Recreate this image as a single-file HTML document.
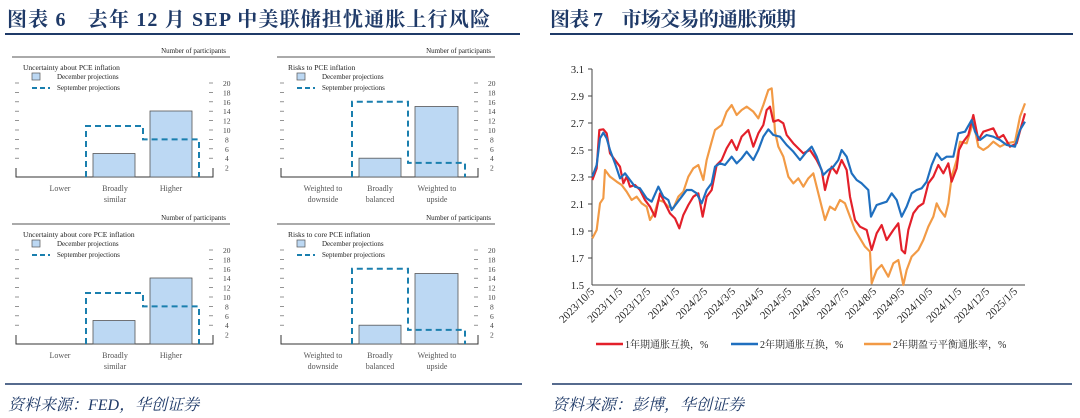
<!DOCTYPE html>
<html><head><meta charset="utf-8"><style>
html,body{margin:0;padding:0;background:#fff;}
svg{display:block;}
.t{font-family:"Liberation Serif","Noto Serif CJK SC",serif;}
</style></head><body>
<svg width="1080" height="418" viewBox="0 0 1080 418" xmlns="http://www.w3.org/2000/svg">
<defs>
<g id="panelA">
  <text x="226" y="53" font-size="7" text-anchor="end" class="t" fill="#222">Number of participants</text>
  <line x1="12" y1="57" x2="230" y2="57" stroke="#555" stroke-width="1"/>
  <rect x="32" y="73" width="8" height="7" fill="#bcd8f3" stroke="#555" stroke-width="0.7"/>
  <text x="57" y="79" font-size="7" class="t" fill="#222">December projections</text>
  <line x1="32" y1="88" x2="50" y2="88" stroke="#1a7fae" stroke-width="2" stroke-dasharray="5,3"/>
  <text x="57" y="90" font-size="7" class="t" fill="#222">September projections</text>
  <g stroke="#666" stroke-width="0.7">
    <line x1="15" y1="83" x2="19" y2="83"/><line x1="15" y1="92.4" x2="19" y2="92.4"/><line x1="15" y1="101.8" x2="19" y2="101.8"/><line x1="15" y1="111.2" x2="19" y2="111.2"/><line x1="15" y1="120.6" x2="19" y2="120.6"/><line x1="15" y1="130" x2="19" y2="130"/><line x1="15" y1="139.4" x2="19" y2="139.4"/><line x1="15" y1="148.8" x2="19" y2="148.8"/><line x1="15" y1="158.2" x2="19" y2="158.2"/>
    <line x1="209" y1="83" x2="213" y2="83"/><line x1="209" y1="92.4" x2="213" y2="92.4"/><line x1="209" y1="101.8" x2="213" y2="101.8"/><line x1="209" y1="111.2" x2="213" y2="111.2"/><line x1="209" y1="120.6" x2="213" y2="120.6"/><line x1="209" y1="130" x2="213" y2="130"/><line x1="209" y1="139.4" x2="213" y2="139.4"/><line x1="209" y1="148.8" x2="213" y2="148.8"/><line x1="209" y1="158.2" x2="213" y2="158.2"/>
  </g>
  <polyline points="16,168 16,177 213,177 213,168" fill="none" stroke="#333" stroke-width="1"/>
  <g font-size="7.5" class="t" fill="#444">
    <text x="223" y="86">20</text><text x="223" y="95.4">18</text><text x="223" y="104.8">16</text><text x="223" y="114.2">14</text><text x="223" y="123.6">12</text><text x="223" y="133">10</text><text x="225" y="142.4">8</text><text x="225" y="151.8">6</text><text x="225" y="161.2">4</text><text x="225" y="170.6">2</text>
  </g>
</g>
</defs>

<text x="7" y="26" font-size="20" font-weight="bold" class="t" fill="#1f3a68" textLength="483" lengthAdjust="spacing">图表 6　去年 12 月 SEP 中美联储担忧通胀上行风险</text>
<line x1="5" y1="34" x2="520" y2="34" stroke="#1f3a68" stroke-width="2"/>
<text x="550" y="26" font-size="20" font-weight="bold" class="t" fill="#1f3a68" textLength="246" lengthAdjust="spacing">图表 7　市场交易的通胀预期</text>
<line x1="550" y1="34" x2="1073" y2="34" stroke="#1f3a68" stroke-width="2"/>

<use href="#panelA"/>
<text x="23" y="70" font-size="7.5" class="t" fill="#222">Uncertainty about PCE inflation</text>
<rect x="93" y="153.5" width="42" height="23.5" fill="#bcd8f3" stroke="#555" stroke-width="0.8"/>
<rect x="150" y="111" width="42" height="66" fill="#bcd8f3" stroke="#555" stroke-width="0.8"/>
<polyline points="86,177 86,126 143,126 143,139.4 199,139.4 199,177" fill="none" stroke="#1a7fae" stroke-width="2" stroke-dasharray="6,4"/>
<g font-size="8" class="t" fill="#555" text-anchor="middle"><text x="60" y="191">Lower</text><text x="115" y="191">Broadly</text><text x="115" y="202">similar</text><text x="171" y="191">Higher</text></g>

<use href="#panelA" transform="translate(265,0)"/>
<text x="288" y="70" font-size="7.5" class="t" fill="#222">Risks to PCE inflation</text>
<rect x="359" y="158.2" width="42" height="18.8" fill="#bcd8f3" stroke="#555" stroke-width="0.8"/>
<rect x="415" y="106.5" width="43" height="70.5" fill="#bcd8f3" stroke="#555" stroke-width="0.8"/>
<polyline points="352,177 352,101.8 408,101.8 408,162.9 465,162.9 465,177" fill="none" stroke="#1a7fae" stroke-width="2" stroke-dasharray="6,4"/>
<g font-size="8" class="t" fill="#555" text-anchor="middle"><text x="323" y="191">Weighted to</text><text x="323" y="202">downside</text><text x="380" y="191">Broadly</text><text x="380" y="202">balanced</text><text x="437" y="191">Weighted to</text><text x="437" y="202">upside</text></g>

<use href="#panelA" transform="translate(0,167)"/>
<text x="23" y="237" font-size="7.5" class="t" fill="#222">Uncertainty about core PCE inflation</text>
<rect x="93" y="320.5" width="42" height="23.5" fill="#bcd8f3" stroke="#555" stroke-width="0.8"/>
<rect x="150" y="278" width="42" height="66" fill="#bcd8f3" stroke="#555" stroke-width="0.8"/>
<polyline points="86,344 86,293 143,293 143,306.4 199,306.4 199,344" fill="none" stroke="#1a7fae" stroke-width="2" stroke-dasharray="6,4"/>
<g font-size="8" class="t" fill="#555" text-anchor="middle"><text x="60" y="358">Lower</text><text x="115" y="358">Broadly</text><text x="115" y="369">similar</text><text x="171" y="358">Higher</text></g>

<use href="#panelA" transform="translate(265,167)"/>
<text x="288" y="237" font-size="7.5" class="t" fill="#222">Risks to core PCE inflation</text>
<rect x="359" y="325.2" width="42" height="18.8" fill="#bcd8f3" stroke="#555" stroke-width="0.8"/>
<rect x="415" y="273.5" width="43" height="70.5" fill="#bcd8f3" stroke="#555" stroke-width="0.8"/>
<polyline points="352,344 352,268.8 408,268.8 408,329.9 465,329.9 465,344" fill="none" stroke="#1a7fae" stroke-width="2" stroke-dasharray="6,4"/>
<g font-size="8" class="t" fill="#555" text-anchor="middle"><text x="323" y="358">Weighted to</text><text x="323" y="369">downside</text><text x="380" y="358">Broadly</text><text x="380" y="369">balanced</text><text x="437" y="358">Weighted to</text><text x="437" y="369">upside</text></g>

<g class="t" font-size="10.5" fill="#222" text-anchor="end">
<text x="584" y="73">3.1</text><text x="584" y="100">2.9</text><text x="584" y="127">2.7</text><text x="584" y="154">2.5</text><text x="584" y="181">2.3</text><text x="584" y="208">2.1</text><text x="584" y="235">1.9</text><text x="584" y="262">1.7</text><text x="584" y="289">1.5</text>
</g>
<line x1="592" y1="69" x2="592" y2="285" stroke="#444" stroke-width="1"/>
<line x1="592" y1="285" x2="1025" y2="285" stroke="#444" stroke-width="1"/>
<g stroke="#444" stroke-width="1">
<line x1="588" y1="69" x2="592" y2="69"/><line x1="588" y1="96" x2="592" y2="96"/><line x1="588" y1="123" x2="592" y2="123"/><line x1="588" y1="150" x2="592" y2="150"/><line x1="588" y1="177" x2="592" y2="177"/><line x1="588" y1="204" x2="592" y2="204"/><line x1="588" y1="231" x2="592" y2="231"/><line x1="588" y1="258" x2="592" y2="258"/>
</g>
<g class="t" font-size="11" fill="#222" text-anchor="end">
<text transform="translate(595,292) rotate(-45)">2023/10/5</text>
<text transform="translate(623,292) rotate(-45)">2023/11/5</text>
<text transform="translate(651,292) rotate(-45)">2023/12/5</text>
<text transform="translate(680,292) rotate(-45)">2024/1/5</text>
<text transform="translate(708,292) rotate(-45)">2024/2/5</text>
<text transform="translate(736,292) rotate(-45)">2024/3/5</text>
<text transform="translate(764,292) rotate(-45)">2024/4/5</text>
<text transform="translate(792,292) rotate(-45)">2024/5/5</text>
<text transform="translate(821,292) rotate(-45)">2024/6/5</text>
<text transform="translate(849,292) rotate(-45)">2024/7/5</text>
<text transform="translate(877,292) rotate(-45)">2024/8/5</text>
<text transform="translate(905,292) rotate(-45)">2024/9/5</text>
<text transform="translate(933,292) rotate(-45)">2024/10/5</text>
<text transform="translate(962,292) rotate(-45)">2024/11/5</text>
<text transform="translate(990,292) rotate(-45)">2024/12/5</text>
<text transform="translate(1018,292) rotate(-45)">2025/1/5</text>
</g>
<g transform="translate(540,50) scale(0.33333)" fill="none" stroke-width="6.5" stroke-linejoin="round">
<polyline stroke="#f29a45" points="157,565 170,540 180,460 190,445 195,360 210,380 230,395 245,405 260,425 275,450 290,440 305,460 320,470 330,510 345,485 355,450 370,455 385,470 400,475 415,440 430,425 445,380 460,355 475,345 490,390 500,330 515,275 525,240 545,225 560,185 575,165 590,195 605,180 620,170 640,185 655,205 670,165 685,120 695,115 700,170 705,245 715,290 730,320 745,380 760,400 775,385 790,410 805,385 820,370 835,430 855,510 870,470 885,480 900,450 915,460 930,500 945,540 960,565 975,590 990,605 995,700 1010,660 1025,645 1045,680 1060,640 1075,630 1090,705 1100,660 1115,620 1135,600 1150,570 1165,530 1180,500 1190,460 1200,480 1215,500 1225,460 1235,380 1250,330 1260,275 1280,280 1300,215 1315,290 1330,300 1345,290 1360,275 1380,290 1400,280 1425,275 1440,200 1455,160"/>
<polyline stroke="#e3202a" points="157,390 170,355 178,240 190,238 200,250 210,310 225,330 240,350 250,400 260,380 270,410 285,405 300,420 315,450 330,470 345,500 360,430 375,460 390,490 405,505 418,535 430,495 445,465 460,440 475,430 488,500 500,440 515,420 530,345 545,330 560,295 575,270 590,300 605,260 625,240 640,290 655,250 670,225 680,180 690,170 700,215 715,210 730,220 740,255 760,280 775,295 790,310 810,300 830,330 845,360 855,420 865,380 875,350 890,370 905,330 920,360 930,440 945,510 960,530 980,540 995,600 1010,550 1025,525 1040,570 1060,540 1075,520 1085,600 1095,610 1105,540 1120,490 1135,470 1150,460 1165,400 1180,380 1195,345 1210,370 1225,340 1235,395 1250,355 1257,300 1270,275 1285,255 1300,195 1315,270 1330,245 1345,240 1360,235 1375,265 1390,255 1410,290 1430,280 1445,225 1455,190"/>
<polyline stroke="#1f6fbf" points="157,380 170,345 180,265 190,248 200,265 210,300 225,340 240,385 255,370 270,390 285,410 300,415 320,445 335,455 355,410 370,440 385,450 395,480 410,460 425,440 440,420 455,420 470,430 485,460 500,420 515,400 525,350 540,340 555,345 575,320 590,340 605,325 620,305 640,330 655,300 670,260 685,238 700,255 720,260 740,285 760,305 780,330 800,305 815,290 830,320 850,375 865,360 880,350 895,330 905,300 920,320 935,370 950,390 965,400 985,420 993,500 1010,465 1025,460 1040,455 1055,430 1070,450 1085,500 1100,470 1115,430 1130,420 1145,415 1160,395 1175,345 1190,310 1205,330 1220,320 1240,320 1255,250 1275,245 1295,210 1305,245 1320,270 1340,255 1360,260 1380,270 1400,285 1425,290 1440,240 1455,215"/>
</g>
<line x1="596" y1="344" x2="623" y2="344" stroke="#e3202a" stroke-width="2.5"/>
<text x="625" y="348" font-size="10" class="t" fill="#222">1年期通胀互换，%</text>
<line x1="731" y1="344" x2="758" y2="344" stroke="#1f6fbf" stroke-width="2.5"/>
<text x="760" y="348" font-size="10" class="t" fill="#222">2年期通胀互换，%</text>
<line x1="864" y1="344" x2="891" y2="344" stroke="#f29a45" stroke-width="2.5"/>
<text x="893" y="348" font-size="10" class="t" fill="#222">2年期盈亏平衡通胀率，%</text>

<line x1="5" y1="384" x2="522" y2="384" stroke="#1f3a68" stroke-width="1.5"/>
<line x1="552" y1="384" x2="1072" y2="384" stroke="#1f3a68" stroke-width="1.5"/>
<text x="8" y="410" font-size="16" font-style="italic" class="t" fill="#1f3a68">资料来源：FED，华创证券</text>
<text x="552" y="410" font-size="16" font-style="italic" class="t" fill="#1f3a68">资料来源：彭博，华创证券</text>
</svg>
</body></html>
